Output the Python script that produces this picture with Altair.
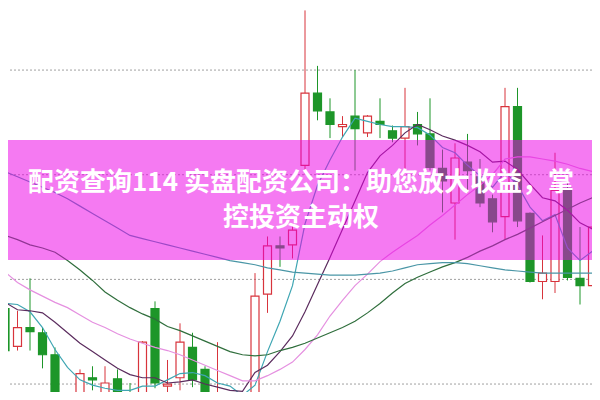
import altair as alt
import pandas as pd

# ---- data ----
day = list(range(48))
open_ = [10.72, 10.36, 10.54, 10.49, 10.28, 9.66, 9.75, 10.06, 9.75, 10.05,
         9.80, 9.75, 10.72, 9.98, 10.06, 10.35, 10.14, 9.87, 9.89, 9.80,
         9.75, 10.86, 11.32, 11.33, 12.09, 12.78, 12.60, 12.46, 12.56, 12.40,
         12.51, 12.42, 12.35, 12.48, 12.39, 12.06, 11.73, 12.12, 11.98, 11.77,
         11.60, 12.65, 11.63, 10.98, 10.98, 11.87, 11.01, 10.94]
close = [10.32, 10.54, 10.50, 10.28, 9.80, 9.80, 10.10, 10.04, 10.01, 9.75,
         9.70, 10.40, 10.01, 10.00, 10.40, 10.04, 9.89, 9.89, 9.83, 9.73,
         10.84, 11.32, 11.30, 11.47, 12.78, 12.61, 12.48, 12.48, 12.44, 12.56,
         12.48, 12.35, 12.46, 12.39, 12.07, 11.94, 12.16, 12.04, 11.73, 11.55,
         12.65, 11.56, 10.98, 11.06, 11.85, 11.02, 10.94, 11.50]
high = [10.88, 10.70, 11.01, 10.54, 10.35, 9.91, 10.14, 10.17, 10.17, 10.14,
        10.01, 10.41, 10.79, 10.23, 10.58, 10.49, 10.17, 10.40, 9.90, 9.84,
        11.06, 11.41, 11.41, 11.52, 13.57, 13.04, 12.73, 12.56, 13.00, 12.57,
        12.73, 12.47, 12.83, 12.60, 12.73, 12.24, 12.30, 12.39, 12.15, 11.81,
        12.83, 12.83, 11.64, 11.42, 12.21, 11.92, 11.50, 11.52]
low = [10.02, 10.32, 10.32, 10.15, 9.73, 9.61, 9.70, 9.94, 9.70, 9.70,
       9.66, 9.70, 9.96, 9.91, 9.94, 9.97, 9.83, 9.80, 9.77, 9.68,
       9.70, 10.68, 11.12, 11.20, 12.00, 12.52, 12.35, 12.36, 12.04, 12.36,
       12.35, 12.31, 12.03, 12.28, 12.04, 11.64, 11.38, 11.83, 11.69, 11.45,
       11.38, 11.50, 10.97, 10.81, 10.87, 10.99, 10.76, 10.63]

ma5 = [10.77, 10.76, 10.69, 10.54, 10.33, 10.16, 10.04, 9.99, 9.96, 9.94,
       9.94, 9.98, 9.98, 10.04, 10.10, 10.11, 10.08, 10.01, 9.98, 9.89,
       9.99, 10.31, 10.60, 10.94, 11.53, 11.90, 12.14, 12.36, 12.54, 12.51,
       12.48, 12.46, 12.46, 12.45, 12.38, 12.26, 12.21, 12.09, 11.99, 11.88,
       12.03, 11.90, 11.69, 11.56, 11.62, 11.30, 11.18, 11.27]
ma10 = [10.78, 10.71, 10.70, 10.68, 10.59, 10.49, 10.39, 10.31, 10.23, 10.15,
        10.09, 10.06, 10.06, 10.01, 10.02, 10.04, 10.00, 9.97, 9.94, 9.93,
        10.11, 10.18, 10.31, 10.46, 10.69, 10.95, 11.21, 11.48, 11.75, 12.02,
        12.18, 12.28, 12.40, 12.48, 12.43, 12.37, 12.33, 12.28, 12.22, 12.12,
        12.13, 12.05, 11.91, 11.78, 11.75, 11.66, 11.54, 11.48]
ma20 = [11.07, 10.97, 10.90, 10.84, 10.78, 10.73, 10.66, 10.59, 10.54, 10.48,
        10.43, 10.39, 10.35, 10.32, 10.28, 10.23, 10.18, 10.13, 10.08, 10.03,
        10.03, 10.08, 10.14, 10.21, 10.33, 10.47, 10.65, 10.80, 10.94, 11.05,
        11.17, 11.26, 11.34, 11.42, 11.52, 11.61, 11.71, 11.81, 11.90, 12.00,
        12.15, 12.17, 12.17, 12.15, 12.13, 12.10, 12.06, 12.03]
ma30 = [11.42, 11.38, 11.33, 11.30, 11.26, 11.18, 11.09, 10.99, 10.88, 10.80,
        10.73, 10.67, 10.62, 10.55, 10.51, 10.46, 10.41, 10.36, 10.31, 10.28,
        10.27, 10.28, 10.32, 10.35, 10.39, 10.44, 10.49, 10.54, 10.60, 10.68,
        10.77, 10.87, 10.96, 11.02, 11.07, 11.12, 11.16, 11.21, 11.27, 11.32,
        11.38, 11.43, 11.49, 11.55, 11.61, 11.67, 11.73, 11.78]
ma60 = [12.03, 11.98, 11.93, 11.88, 11.83, 11.77, 11.70, 11.63, 11.56, 11.49,
        11.42, 11.39, 11.36, 11.33, 11.30, 11.27, 11.24, 11.21, 11.18, 11.16,
        11.14, 11.11, 11.09, 11.07, 11.06, 11.05, 11.04, 11.04, 11.04, 11.05,
        11.06, 11.08, 11.11, 11.14, 11.15, 11.16, 11.16, 11.15, 11.13, 11.11,
        11.09, 11.08, 11.07, 11.06, 11.06, 11.06, 11.06, 11.06]

grid_levels = [10, 11, 12, 13]
ma_names = ["ma5", "ma10", "ma20", "ma30", "ma60"]
ma_colors = ["#3fa6b3", "#5b2c5e", "#e590e0", "#2f6e3c", "#4a96a6"]

banner_line1 = "配资查询114 实盘配资公司：助您放大收益，掌"
banner_line2 = "控投资主动权"

RED = "#d8343c"
GREEN = "#1d9629"

df = pd.DataFrame({"day": day, "open": open_, "close": close, "high": high,
                   "low": low, "ma5": ma5, "ma10": ma10, "ma20": ma20,
                   "ma30": ma30, "ma60": ma60})

W, H = 584, 384
xs = alt.Scale(domain=[0.24, 46.96], nice=False, zero=False, padding=0)
ys = alt.Scale(domain=[9.924, 13.593], nice=False, zero=False, padding=0)
X = alt.X("day:Q", scale=xs, axis=None)
up = "datum.close >= datum.open"

base = alt.Chart(df)

grid = alt.Chart(pd.DataFrame({"g": grid_levels})).mark_rule(
    color="#a0a0a0", strokeDash=[2, 2], strokeWidth=1
).encode(y=alt.Y("g:Q", scale=ys, axis=None))

wick = base.mark_rule(strokeWidth=1, clip=True).encode(
    x=X,
    y=alt.Y("low:Q", scale=ys, axis=None),
    y2="high:Q",
    color=alt.condition(up, alt.value(RED), alt.value(GREEN)),
)

body = base.mark_bar(size=8, strokeWidth=1.2, clip=True).encode(
    x=X,
    y=alt.Y("open:Q", scale=ys, axis=None),
    y2="close:Q",
    fill=alt.condition(up, alt.value("white"), alt.value(GREEN)),
    stroke=alt.condition(up, alt.value(RED), alt.value(GREEN)),
)

lines = base.transform_fold(ma_names, as_=["ma", "v"]).mark_line(
    strokeWidth=1.2, clip=True
).encode(
    x=X,
    y=alt.Y("v:Q", scale=ys, axis=None),
    color=alt.Color("ma:N", scale=alt.Scale(domain=ma_names, range=ma_colors), legend=None),
)

one = pd.DataFrame({"k": [0]})
banner = alt.Chart(one).mark_rect(color="#eb00e6", opacity=0.52).encode(
    x=alt.value(0), x2=alt.value(W), y=alt.value(132), y2=alt.value(252)
)

txt_style = dict(font="Noto Sans CJK SC", fontSize=26, fontWeight="bold",
                 color="white", align="center", baseline="middle")
t1 = alt.Chart(one).mark_text(text=banner_line1, **txt_style).encode(
    x=alt.value(293), y=alt.value(175))
t2 = alt.Chart(one).mark_text(text=banner_line2, **txt_style).encode(
    x=alt.value(293), y=alt.value(210))

chart = alt.layer(grid, wick, body, lines, banner, t1, t2).properties(
    width=W, height=H, padding=0,
    autosize=alt.AutoSizeParams(type="none"),
    background="white",
).configure_view(stroke=None)

chart.save("out.html", embed_options={"renderer": "svg", "actions": False})
